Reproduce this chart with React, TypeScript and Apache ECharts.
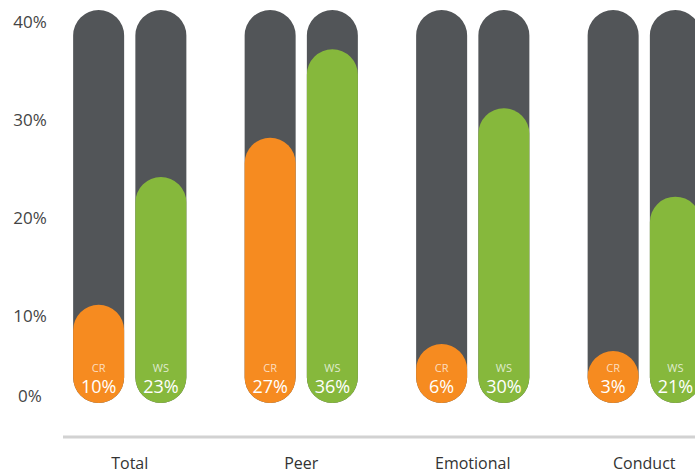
import React, { useEffect, useRef } from "react";
import * as echarts from "echarts";

const categories = ["Total", "Peer", "Emotional", "Conduct"];
const crValues = [10, 27, 6, 3];
const wsValues = [23, 36, 30, 21];
const yTicks = [0, 10, 20, 30, 40];

const FONT = "'Open Sans', 'Noto Sans', sans-serif";

export default function App() {
  const ref = useRef<HTMLDivElement>(null);
  useEffect(() => {
    if (!ref.current) return;
    const chart = echarts.init(ref.current, null, { renderer: "svg" });
    const barLabel = (name: string, light: string) => ({
      show: true,
      position: "insideBottom",
      distance: 7,
      formatter: (p: any) => `{a|${name}}\n{b|${p.value}%}`,
      rich: {
        a: { fontFamily: FONT, fontSize: 11, color: light, lineHeight: 18, align: "center" },
        b: { fontFamily: FONT, fontSize: 18, color: "#ffffff", lineHeight: 20, align: "center" },
      },
    });
    const common = {
      type: "bar",
      barWidth: 51,
      barGap: "22%",
      barMinHeight: 52,
      showBackground: true,
      backgroundStyle: { color: "#525558", borderRadius: 26 },
    };
    chart.setOption({
      animation: false,
      backgroundColor: "#ffffff",
      grid: { left: 44, right: 1, top: 10, bottom: 70 },
      xAxis: {
        type: "category",
        data: categories,
        axisLine: { show: false },
        axisTick: { show: false },
        axisLabel: { margin: 52, fontFamily: FONT, fontSize: 16, color: "#333333" },
      },
      yAxis: {
        type: "value",
        min: yTicks[0],
        max: yTicks[yTicks.length - 1],
        interval: 10,
        axisLine: { show: false },
        axisTick: { show: false },
        splitLine: { show: false },
        axisLabel: {
          margin: 14,
          align: "center",
          formatter: (v: number) => (v === 0 ? `{z|${v}%}` : `{n|${v}%}`),
          rich: {
            n: { fontFamily: FONT, fontSize: 17, color: "#444444", padding: [22, 0, 0, 0] },
            z: { fontFamily: FONT, fontSize: 17, color: "#444444", padding: [0, 0, 16, 0] },
          },
        },
      },
      graphic: [
        {
          type: "line",
          shape: { x1: 63, y1: 437, x2: 695, y2: 437 },
          style: { stroke: "#d2d2d2", lineWidth: 3 },
          silent: true,
        },
      ],
      series: [
        {
          ...common,
          name: "CR",
          data: crValues,
          itemStyle: { color: "#f68b20", borderRadius: 26 },
          label: barLabel("CR", "rgba(255,255,255,0.72)"),
        },
        {
          ...common,
          name: "WS",
          data: wsValues,
          itemStyle: { color: "#86b83c", borderRadius: 26 },
          label: barLabel("WS", "rgba(255,255,255,0.75)"),
        },
      ],
    });
    return () => chart.dispose();
  }, []);
  return (
    <div style={{ position: "fixed", left: 0, top: 0, width: 695, height: 473, overflow: "hidden", background: "#fff" }}>
      <div ref={ref} style={{ width: 731, height: 473 }} />
    </div>
  );
}
